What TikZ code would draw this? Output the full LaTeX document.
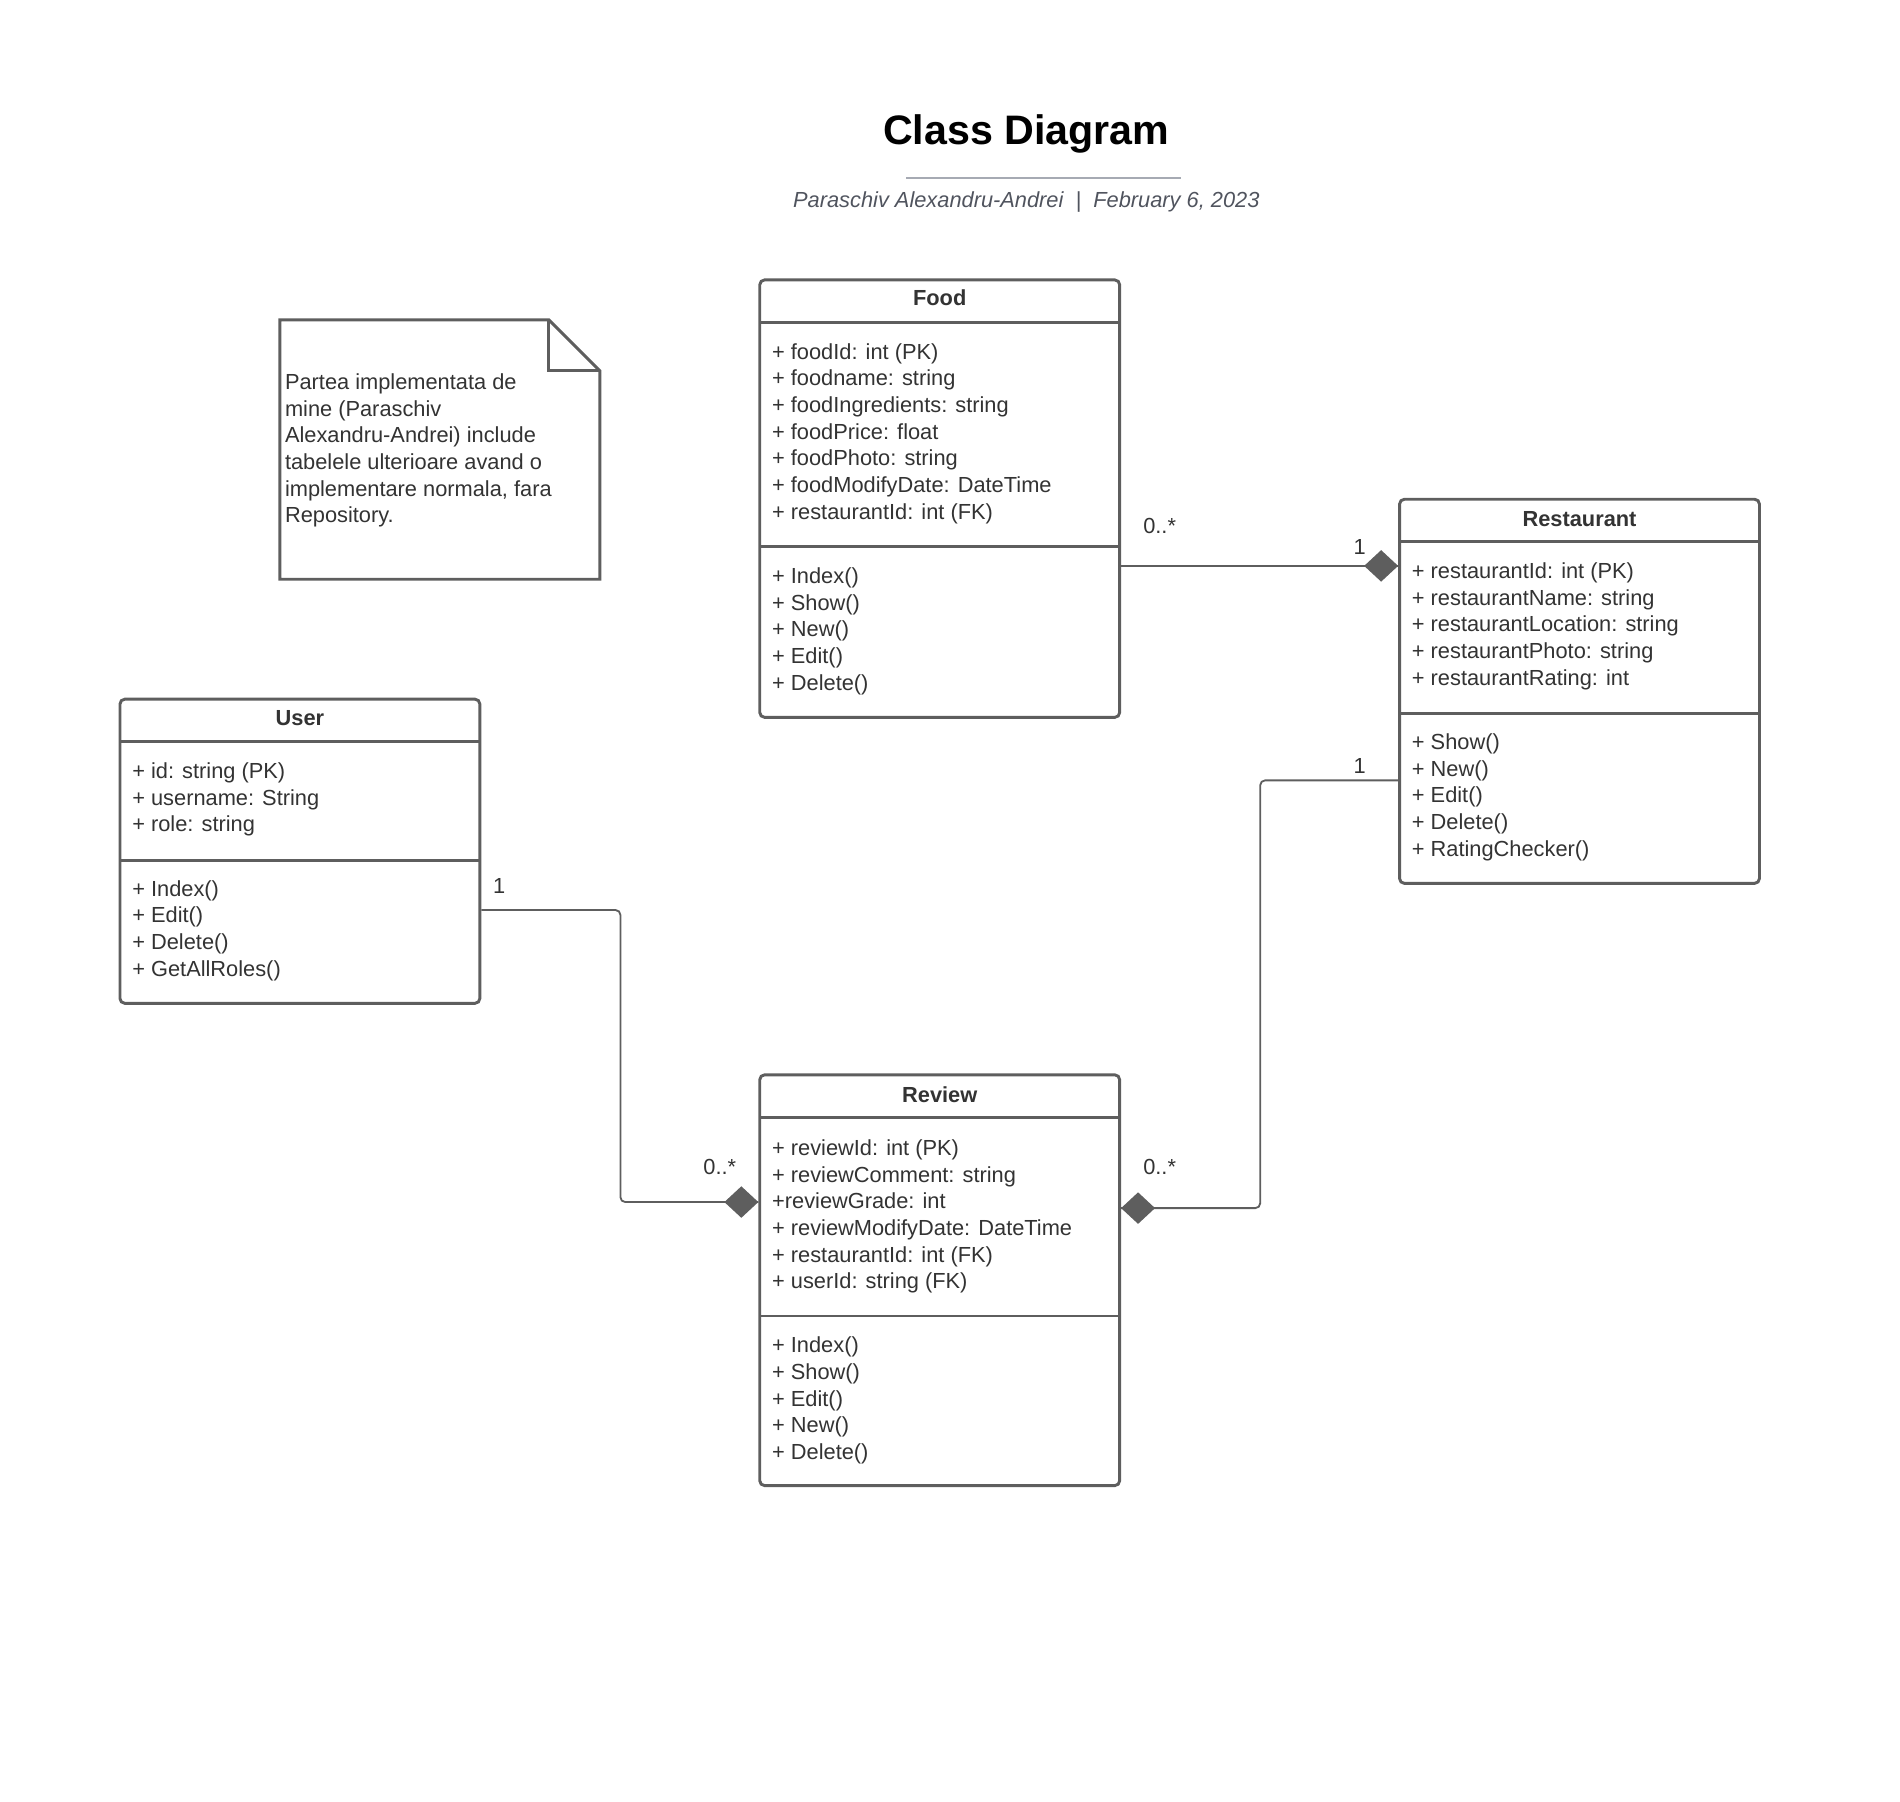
\documentclass[tikz,border=0pt]{standalone}
\usepackage{fontspec}
\setmainfont{Liberation Sans}
\usetikzlibrary{calc}
\definecolor{boxcol}{HTML}{5E5E5E}
\definecolor{txtcol}{HTML}{333333}
\definecolor{subcol}{HTML}{50545E}
\definecolor{rulecol}{HTML}{A6AAB3}
\tikzset{
  classbox/.style={draw=boxcol, line width=2.4pt, rounded corners=4pt, fill=white, inner sep=0pt},
  sepline/.style={draw=boxcol, line width=2.4pt},
  txt/.style={font=\fontsize{18}{22}\selectfont, text=txtcol, inner sep=0pt, anchor=base west},
  ttl/.style={font=\bfseries\fontsize{18}{22}\selectfont, text=txtcol, inner sep=0pt, anchor=base},
  mult/.style={font=\fontsize{18}{22}\selectfont, text=txtcol, inner sep=0pt, anchor=base},
  conn/.style={draw=boxcol, line width=1.5pt, rounded corners=4pt},
  diam/.style={fill=boxcol},
}
\begin{document}
\begin{tikzpicture}[x=1pt, y=-1pt]
\useasboundingbox (0,0) rectangle (1568,1486.3);

% Title
\node[font=\bfseries\fontsize{34}{40}\selectfont, inner sep=0pt, anchor=base] (title) at (847,119) {Class Diagram};
\coordinate (rl) at (748,147);
\coordinate (rr) at (975,147);
\draw[rulecol, line width=1.5pt] (rl) -- (rr);
\node[font=\itshape\fontsize{18}{22}\selectfont, text=subcol, inner sep=0pt, anchor=base] (subtitle) at (847,171.5)
  {Paraschiv Alexandru-Andrei\hspace{10pt}|\hspace{10pt}February 6, 2023};

% Note
\draw[boxcol, line width=2.4pt, fill=white] (231,264) -- (453,264) -- (495,306) -- (495,478) -- (231,478) -- cycle;
\draw[boxcol, line width=2.4pt] (453,264) -- (453,306) -- (495,306);
\foreach \t [count=\i from 0] in {{Partea implementata de},{mine (Paraschiv},{Alexandru-Andrei) include},{tabelele ulterioare avand o},{implementare normala, fara},{Repository.}}
  \node[txt] (note-\i) at (235,{321.5+22*\i}) {\t};

% Food
\node[classbox, minimum width=297pt, minimum height=361pt] (food) at (775.5,411.5) {};
\draw[sepline] (627,266) -- (924,266);
\draw[sepline] (627,451) -- (924,451);
\node[ttl] (food-t) at (775.5,252.5) {Food};
\foreach \t [count=\i from 0] in {{+ foodId: int (PK)},{+ foodname: string},{+ foodIngredients: string},{+ foodPrice: float},{+ foodPhoto: string},{+ foodModifyDate: DateTime},{+ restaurantId: int (FK)}}
  \node[txt] (food-a\i) at (637,{296.5+22*\i}) {\t};
\foreach \t [count=\i from 0] in {{+ Index()},{+ Show()},{+ New()},{+ Edit()},{+ Delete()}}
  \node[txt] (food-m\i) at (637,{481.5+22*\i}) {\t};

% Restaurant
\node[classbox, minimum width=297pt, minimum height=317pt] (rest) at (1303.5,570.5) {};
\draw[sepline] (1155,447) -- (1452,447);
\draw[sepline] (1155,589) -- (1452,589);
\node[ttl] (rest-t) at (1303.5,434.5) {Restaurant};
\foreach \t [count=\i from 0] in {{+ restaurantId: int (PK)},{+ restaurantName: string},{+ restaurantLocation: string},{+ restaurantPhoto: string},{+ restaurantRating: int}}
  \node[txt] (rest-a\i) at (1165,{477.5+22*\i}) {\t};
\foreach \t [count=\i from 0] in {{+ Show()},{+ New()},{+ Edit()},{+ Delete()},{+ RatingChecker()}}
  \node[txt] (rest-m\i) at (1165,{618.5+22*\i}) {\t};

% User
\node[classbox, minimum width=297pt, minimum height=251pt] (user) at (247.5,702.5) {};
\draw[sepline] (99,612) -- (396,612);
\draw[sepline] (99,710) -- (396,710);
\node[ttl] (user-t) at (247.5,598.5) {User};
\foreach \t [count=\i from 0] in {{+ id: string (PK)},{+ username: String},{+ role: string}}
  \node[txt] (user-a\i) at (109,{642.5+22*\i}) {\t};
\foreach \t [count=\i from 0] in {{+ Index()},{+ Edit()},{+ Delete()},{+ GetAllRoles()}}
  \node[txt] (user-m\i) at (109,{739.5+22*\i}) {\t};

% Review
\node[classbox, minimum width=297pt, minimum height=339pt] (review) at (775.5,1056.5) {};
\draw[sepline] (627,922) -- (924,922);
\draw[sepline] (627,1086) -- (924,1086);
\node[ttl] (review-t) at (775.5,909.5) {Review};
\foreach \t [count=\i from 0] in {{+ reviewId: int (PK)},{+ reviewComment: string},{+reviewGrade: int},{+ reviewModifyDate: DateTime},{+ restaurantId: int (FK)},{+ userId: string (FK)}}
  \node[txt] (review-a\i) at (637,{953.5+22*\i}) {\t};
\foreach \t [count=\i from 0] in {{+ Index()},{+ Show()},{+ Edit()},{+ New()},{+ Delete()}}
  \node[txt] (review-m\i) at (637,{1116.5+22*\i}) {\t};

% Connectors
\coordinate (d1) at (rest.west |- 0,467);
\coordinate (s1) at (food.east |- 0,467);
\draw[conn] (s1) -- (d1);
\fill[diam] (d1) -- ++(-14,-13) -- ++(-14,13) -- ++(14,13) -- cycle;
\node[mult] (m1a) at (957,440.5) {0..*};
\node[mult] (m1b) at (1122,457.5) {1};

\coordinate (s2) at (user.east |- 0,751);
\coordinate (d2) at (review.west |- 0,992);
\draw[conn] (s2) -- (512,751) -- (512,992) -- (d2);
\fill[diam] (d2) -- ++(-14,-13) -- ++(-14,13) -- ++(14,13) -- cycle;
\node[mult] (m2a) at (412,737.5) {1};
\node[mult] (m2b) at (594,969.5) {0..*};

\coordinate (s3) at (rest.west |- 0,644);
\coordinate (d3) at (review.east |- 0,997);
\draw[conn] (s3) -- (1040,644) -- (1040,997) -- (d3);
\fill[diam] (d3) -- ++(14,-13) -- ++(14,13) -- ++(-14,13) -- cycle;
\node[mult] (m3a) at (1122,638.5) {1};
\node[mult] (m3b) at (957,969.5) {0..*};
\end{tikzpicture}
\end{document}
